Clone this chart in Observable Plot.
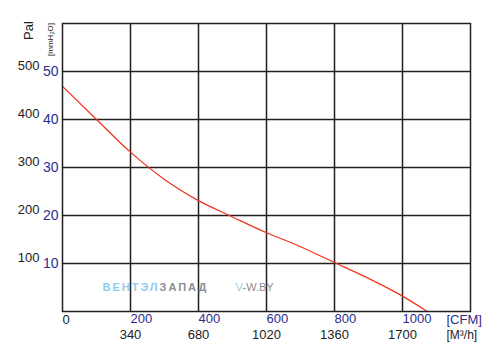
<!DOCTYPE html>
<html>
<head>
<meta charset="utf-8">
<script src="https://cdn.jsdelivr.net/npm/d3@7"></script>
<script src="https://cdn.jsdelivr.net/npm/@observablehq/plot@0.6"></script>
<style>
  html, body { margin: 0; padding: 0; background: #fff; }
</style>
</head>
<body>
<div id="chart"></div>
<script>
// Fan curve: airflow (CFM) vs static pressure (mmH2O)
const flowCFM  = [0, 100, 200, 300, 400, 500, 600, 680, 800, 900, 1000, 1073];
const pressMM  = [46.9, 40.0, 33.2, 27.5, 23.1, 19.7, 16.4, 14.1, 10.2, 6.9, 3.2, 0];

const cfmTicks = [200, 400, 600, 800, 1000];
const m3hTicks = [200, 400, 600, 800, 1000];
const m3hLabels = ["340", "680", "1020", "1360", "1700"];
const mmTicks  = [10, 20, 30, 40, 50];
const paLabels = ["100", "200", "300", "400", "500"];

const data = flowCFM.map((x, i) => ({x, y: pressMM[i]}));

const blue = "#2b2d8c";
const ink = "#231f20";
const red = "#f0321a";
const wmBlue = "#8fcdf0";
const wmGray = "#8c8c8c";

const chart = Plot.plot({
  width: 492,
  height: 354,
  marginLeft: 62,
  marginRight: 22,
  marginTop: 23,
  marginBottom: 43,
  style: {fontFamily: "'Liberation Sans', Arial, Helvetica, sans-serif", fontSize: "13px", background: "#fff", color: "#222"},
  x: {domain: [0, 1200], axis: null},
  y: {domain: [0, 60], axis: null},
  marks: [
    Plot.gridX(cfmTicks, {stroke: ink, strokeOpacity: 1, strokeWidth: 1.5}),
    Plot.gridY(mmTicks, {stroke: ink, strokeOpacity: 1, strokeWidth: 1.5}),
    // watermark
    Plot.text(["ВЕНТЭЛ"], {frameAnchor: "bottom-left", dx: 40, dy: -21, textAnchor: "start", fill: wmBlue, fontWeight: "bold", fontSize: 11, className: "wm"}),
    Plot.text(["ЗАПАД"], {frameAnchor: "bottom-left", dx: 97, dy: -21, textAnchor: "start", fill: wmGray, fontWeight: "bold", fontSize: 11, className: "wm"}),
    Plot.text(["V"], {frameAnchor: "bottom-left", dx: 173, dy: -21, textAnchor: "start", fill: wmBlue, fontSize: 11}),
    Plot.text(["-W.BY"], {frameAnchor: "bottom-left", dx: 180, dy: -21, textAnchor: "start", fill: wmGray, fontSize: 11}),
    Plot.line(data, {x: "x", y: "y", stroke: red, strokeWidth: 1.2, curve: "monotone-x"}),
    Plot.frame({stroke: ink, strokeWidth: 1.5}),
    // left axes
    Plot.axisY(mmTicks, {tickSize: 0, tickPadding: 4, fill: blue, fontSize: 14, label: null}),
    Plot.axisY(mmTicks, {tickSize: 0, tickPadding: 23, dy: -6, fill: "#222", fontSize: 13, label: null,
      tickFormat: (d, i) => paLabels[i]}),
    // bottom axes
    Plot.axisX(cfmTicks, {tickSize: 0, tickPadding: 2, textAnchor: "start", fill: blue, fontSize: 13, label: null,
      tickFormat: d => String(d)}),
    Plot.axisX(m3hTicks, {tickSize: 0, tickPadding: 18, fill: "#222", fontSize: 13, label: null,
      tickFormat: (d, i) => m3hLabels[i]}),
    Plot.text(["0"], {frameAnchor: "bottom-left", dx: 0, dy: 8, textAnchor: "start", lineAnchor: "middle", fill: "#222", fontSize: 13}),
    Plot.text(["[CFM]"], {frameAnchor: "bottom-right", dx: -24, dy: 8, textAnchor: "start", lineAnchor: "middle", fill: blue, fontSize: 13}),
    Plot.text(["[M³/h]"], {frameAnchor: "bottom-right", dx: -24, dy: 24, textAnchor: "start", lineAnchor: "middle", fill: "#222", fontSize: 12}),
    // axis titles
    Plot.text(["Pal"], {frameAnchor: "top-left", dx: -34, dy: 7, rotate: -90, textAnchor: "middle", lineAnchor: "middle", fill: "#222", fontSize: 13}),
    Plot.text(["[mmH₂O]"], {frameAnchor: "top-left", dx: -12, dy: 16, rotate: -90, textAnchor: "middle", lineAnchor: "middle", fill: "#222", fontSize: 8})
  ]
});

d3.select(chart).selectAll("g.wm text").attr("letter-spacing", "2px");
document.getElementById("chart").appendChild(chart);
</script>
</body>
</html>
